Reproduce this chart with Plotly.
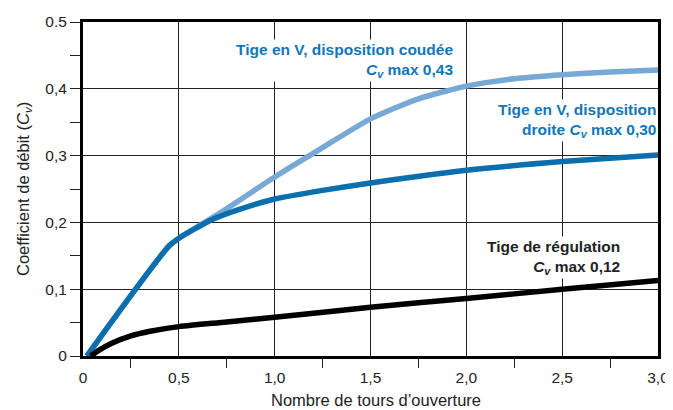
import plotly.graph_objects as go

# Data
x_reg = [0.04, 0.08, 0.15, 0.25, 0.35, 0.5, 0.75, 1.0, 1.5, 2.0, 2.5, 3.0]
y_reg = [0.0, 0.008, 0.019, 0.030, 0.037, 0.044, 0.051, 0.058, 0.073, 0.086, 0.100, 0.113]

x_droite = [0.02, 0.45, 0.52, 0.6, 0.68, 0.8, 1.0, 1.25, 1.5, 2.0, 2.5, 3.0]
y_droite = [0.0, 0.165, 0.180, 0.193, 0.205, 0.218, 0.235, 0.248, 0.259, 0.278, 0.291, 0.301]

x_coudee = [0.02, 0.45, 0.52, 0.6, 0.68, 0.8, 1.0, 1.25, 1.5, 1.75, 2.0, 2.25, 2.5, 2.75, 3.0]
y_coudee = [0.0, 0.165, 0.180, 0.194, 0.208, 0.230, 0.268, 0.312, 0.355, 0.385, 0.404, 0.415, 0.421, 0.425, 0.428]

x_ticks = [0, 0.5, 1.0, 1.5, 2.0, 2.5, 3.0]
x_ticklabels = ["0", "0,5", "1,0", "1,5", "2,0", "2,5", "3,0"]
y_ticks = [0, 0.1, 0.2, 0.3, 0.4, 0.5]
y_ticklabels = ["0", "0,1", "0,2", "0,3", "0,4", "0.5"]

DARK = "#0b6fae"
TEXTBLUE = "#1176b8"
LIGHT = "#78a8d5"
FONT = "Liberation Sans, Arial, sans-serif"

fig = go.Figure()
fig.add_trace(go.Scatter(x=x_coudee, y=y_coudee, mode="lines",
                         line=dict(color=LIGHT, width=5.5, shape="spline", smoothing=0.6)))
fig.add_trace(go.Scatter(x=x_droite, y=y_droite, mode="lines",
                         line=dict(color=DARK, width=5.5, shape="spline", smoothing=0.6)))
fig.add_trace(go.Scatter(x=x_reg, y=y_reg, mode="lines",
                         line=dict(color="black", width=5.5, shape="spline", smoothing=0.8)))

# page body has an 8px margin: figure is 665x402, placed at (8, 8)
fig.update_layout(
    width=665, height=402,
    margin=dict(l=75, r=15, t=14, b=54),
    paper_bgcolor="white", plot_bgcolor="white",
    showlegend=False,
    font=dict(family=FONT, size=15, color="#222"),
)
fig.update_xaxes(
    range=[0, 3.0], tickvals=x_ticks, ticktext=x_ticklabels,
    showgrid=True, gridcolor="#222", gridwidth=1.3,
    showline=True, linecolor="black", linewidth=3, mirror=True,
    ticks="", ticklen=0, zeroline=False, automargin=False,
    ticklabelstandoff=5,
    minor=dict(tickvals=[0.25, 0.75, 1.25, 1.75, 2.25, 2.75], ticks="outside",
               ticklen=9, tickcolor="#222", tickwidth=1.3, showgrid=False),
    tickfont=dict(size=15.5, color="#222"),
)
fig.update_yaxes(
    range=[0, 0.5], tickvals=y_ticks, ticktext=y_ticklabels,
    showgrid=True, gridcolor="#222", gridwidth=1.3,
    showline=True, linecolor="black", linewidth=3, mirror=True,
    ticks="outside", ticklen=10, tickcolor="#222", tickwidth=1.3, zeroline=False,
    automargin=False,
    minor=dict(tickvals=[0.05, 0.15, 0.25, 0.35, 0.45], ticks="outside",
               ticklen=10, tickcolor="#222", tickwidth=1.3, showgrid=False),
    tickfont=dict(size=15.5, color="#222"),
)

# axis titles
fig.add_annotation(x=0.51, y=-0.132, xref="paper", yref="paper", xanchor="center", yanchor="middle",
                   text="Nombre de tours d’ouverture", showarrow=False,
                   font=dict(family=FONT, size=16.5, color="#222"))
fig.add_annotation(x=-0.1026, y=0.5, xref="paper", yref="paper", xanchor="center", yanchor="middle",
                   text="Coefficient de débit (<i>C</i><sub><i>v</i></sub>)", showarrow=False,
                   textangle=-90, font=dict(family=FONT, size=16.5, color="#222"))

ann_font = dict(family=FONT, size=15.5)
fig.add_annotation(x=1.94, y=0.475, xref="x", yref="y", xanchor="right", yanchor="top",
                   text="<b>Tige en V, disposition coudée<br><i>C<sub>v</sub></i> max 0,43</b>",
                   showarrow=False, align="right", bgcolor="white",
                   font=dict(color=TEXTBLUE, **ann_font), borderpad=1)
fig.add_annotation(x=1.0, y=0.385, xref="paper", yref="y", xanchor="right", yanchor="top",
                   text="<b>Tige en V, disposition<br>droite <i>C<sub>v</sub></i> max 0,30</b>",
                   showarrow=False, align="right", bgcolor="white",
                   font=dict(color=TEXTBLUE, **ann_font), borderpad=1)
fig.add_annotation(x=2.81, y=0.18, xref="x", yref="y", xanchor="right", yanchor="top",
                   text="<b>Tige de régulation<br><i>C<sub>v</sub></i> max 0,12</b>",
                   showarrow=False, align="right", bgcolor="white",
                   font=dict(color="#222", **ann_font), borderpad=1)

fig.write_html("out.html")
